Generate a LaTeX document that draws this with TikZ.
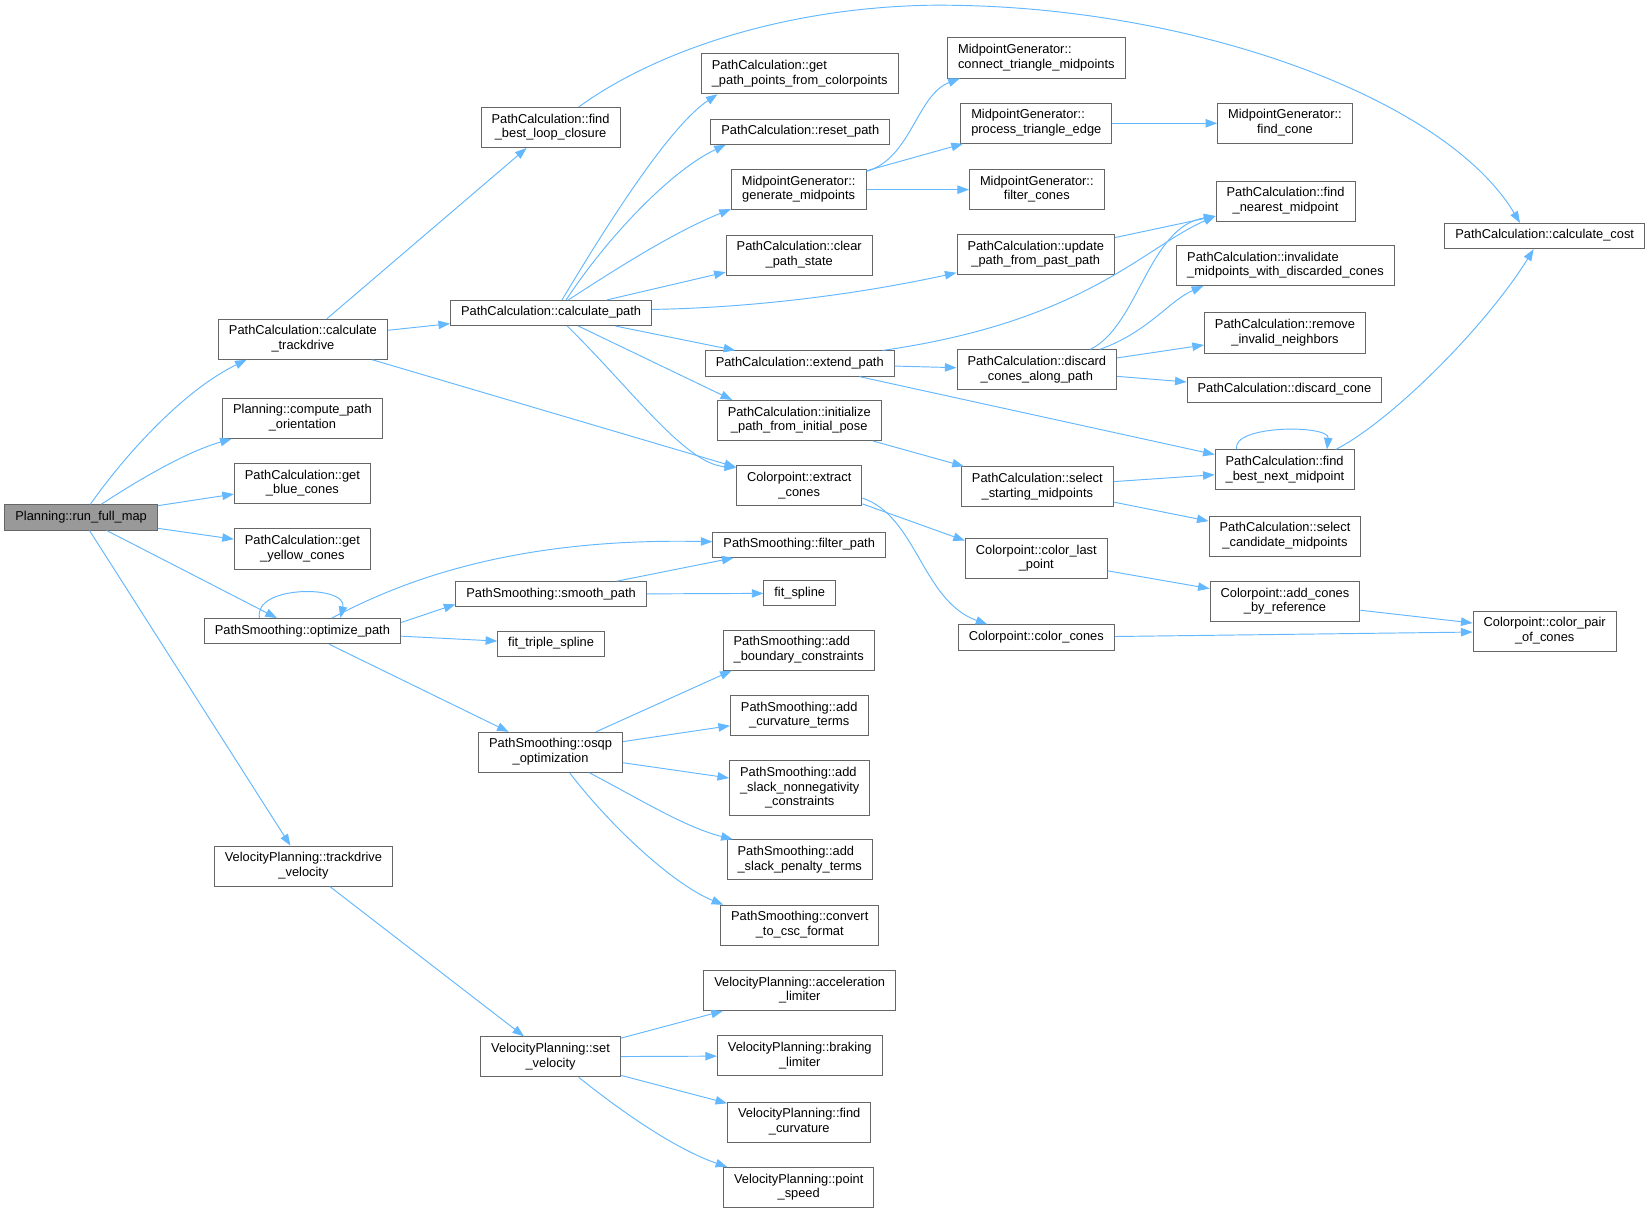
\documentclass[tikz,border=0pt]{standalone}
\usepackage{fontspec}
\setmainfont{Liberation Sans}
\usetikzlibrary{arrows.meta}
\definecolor{edgeblue}{HTML}{63B8FF}
\definecolor{boxgray}{HTML}{666666}
\definecolor{rootgray}{HTML}{999999}
\newcommand\fnA[1]{\begin{tabular}{@{}c@{}}#1\end{tabular}}
\newcommand\fnB[2]{\begin{tabular}{@{}l@{}}#1\\\multicolumn{1}{@{}c@{}}{#2}\end{tabular}}
\newcommand\fnC[3]{\begin{tabular}{@{}l@{}}#1\\#2\\\multicolumn{1}{@{}c@{}}{#3}\end{tabular}}
\begin{document}
\begin{tikzpicture}[x=1pt,y=-1pt,>={Triangle[length=11pt,width=8pt]},
	fn/.style={draw=boxgray,fill=white,line width=0.9pt,inner xsep=10pt,inner ysep=5pt,font=\fontsize{12.2}{14}\selectfont},
	fnroot/.style={fn,fill=rootgray},
	callline/.style={->,draw=edgeblue,line width=0.9pt}]
			\useasboundingbox[fill=white](0,0)rectangle(1565,1149.3);
			\node[fnroot](run)at(77,491){\fnA{Planning::run\_full\_map}};
			\node[fn](ctd)at(287.5,322){\fnB{PathCalculation::calculate}{\_trackdrive}};
			\node[fn](cpo)at(287,397){\fnB{Planning::compute\_path}{\_orientation}};
			\node[fn](gbc)at(287,459){\fnB{PathCalculation::get}{\_blue\_cones}};
			\node[fn](gyc)at(287,521){\fnB{PathCalculation::get}{\_yellow\_cones}};
			\node[fn](opt)at(287,599){\fnA{PathSmoothing::optimize\_path}};
			\node[fn](tdv)at(288,822){\fnB{VelocityPlanning::trackdrive}{\_velocity}};
			\node[fn](fblc)at(522.5,121){\fnB{PathCalculation::find}{\_best\_loop\_closure}};
			\node[fn](cp)at(523,297){\fnA{PathCalculation::calculate\_path}};
			\node[fn](sp)at(523,564){\fnA{PathSmoothing::smooth\_path}};
			\node[fn](fts)at(523,611){\fnA{fit\_triple\_spline}};
			\node[fn](oo)at(522.5,714){\fnB{PathSmoothing::osqp}{\_optimization}};
			\node[fn](sv)at(522.5,1003){\fnB{VelocityPlanning::set}{\_velocity}};
			\node[fn](gpp)at(759,70){\fnB{PathCalculation::get}{\_path\_points\_from\_colorpoints}};
			\node[fn](rp)at(759.5,125){\fnA{PathCalculation::reset\_path}};
			\node[fn](gm)at(758,180){\fnB{MidpointGenerator::}{generate\_midpoints}};
			\node[fn](cps)at(758.5,242){\fnB{PathCalculation::clear}{\_path\_state}};
			\node[fn](ep)at(759,345){\fnA{PathCalculation::extend\_path}};
			\node[fn](ipp)at(758.5,399){\fnB{PathCalculation::initialize}{\_path\_from\_initial\_pose}};
			\node[fn](ec)at(758.5,461){\fnB{Colorpoint::extract}{\_cones}};
			\node[fn](fp)at(758.5,517){\fnA{PathSmoothing::filter\_path}};
			\node[fn](fs)at(759,563){\fnA{fit\_spline}};
			\node[fn](abc)at(758,617){\fnB{PathSmoothing::add}{\_boundary\_constraints}};
			\node[fn](act)at(758.5,679){\fnB{PathSmoothing::add}{\_curvature\_terms}};
			\node[fn](asn)at(759,748){\fnC{PathSmoothing::add}{\_slack\_nonnegativity}{\_constraints}};
			\node[fn](asp)at(759,816){\fnB{PathSmoothing::add}{\_slack\_penalty\_terms}};
			\node[fn](ccf)at(759,878){\fnB{PathSmoothing::convert}{\_to\_csc\_format}};
			\node[fn](al)at(759,940){\fnB{VelocityPlanning::acceleration}{\_limiter}};
			\node[fn](bl)at(759,1002){\fnB{VelocityPlanning::braking}{\_limiter}};
			\node[fn](fcu)at(758.5,1065){\fnB{VelocityPlanning::find}{\_curvature}};
			\node[fn](ps)at(758,1127){\fnB{VelocityPlanning::point}{\_speed}};
			\node[fn](ctm)at(983.5,55){\fnB{MidpointGenerator::}{connect\_triangle\_midpoints}};
			\node[fn](pte)at(983.5,117){\fnB{MidpointGenerator::}{process\_triangle\_edge}};
			\node[fn](fc)at(984,180){\fnB{MidpointGenerator::}{filter\_cones}};
			\node[fn](upp)at(983,241.5){\fnB{PathCalculation::update}{\_path\_from\_past\_path}};
			\node[fn](dcap)at(984,351){\fnB{PathCalculation::discard}{\_cones\_along\_path}};
			\node[fn](ssm)at(984.5,462){\fnB{PathCalculation::select}{\_starting\_midpoints}};
			\node[fn](clp)at(983.5,530){\fnB{Colorpoint::color\_last}{\_point}};
			\node[fn](ccn)at(983.5,605){\fnA{Colorpoint::color\_cones}};
			\node[fn](fcn)at(1219.5,117){\fnB{MidpointGenerator::}{find\_cone}};
			\node[fn](fnm)at(1220,191){\fnB{PathCalculation::find}{\_nearest\_midpoint}};
			\node[fn](ivm)at(1220,252){\fnB{PathCalculation::invalidate}{\_midpoints\_with\_discarded\_cones}};
			\node[fn](rin)at(1219.5,316){\fnB{PathCalculation::remove}{\_invalid\_neighbors}};
			\node[fn](dc)at(1219,370){\fnA{PathCalculation::discard\_cone}};
			\node[fn](fbnm)at(1219.5,446){\fnB{PathCalculation::find}{\_best\_next\_midpoint}};
			\node[fn](scm)at(1219.5,509){\fnB{PathCalculation::select}{\_candidate\_midpoints}};
			\node[fn](acr)at(1219.5,571){\fnB{Colorpoint::add\_cones}{\_by\_reference}};
			\node[fn](cc)at(1466,224){\fnA{PathCalculation::calculate\_cost}};
			\node[fn](cpc)at(1466,599){\fnB{Colorpoint::color\_pair}{\_of\_cones}};
			\foreach \a/\b in {run/gbc,run/gyc,run/opt,run/tdv,ctd/fblc,ctd/cp,ctd/ec,cp/cps,cp/ep,
				gm/pte,gm/fc,pte/fcn,upp/fnm,ep/dcap,ep/fbnm,dcap/rin,dcap/dc,ipp/ssm,ssm/fbnm,ssm/scm,
				clp/acr,acr/cpc,ccn/cpc,opt/fts,opt/oo,sp/fp,sp/fs,oo/act,oo/asn,tdv/sv,sv/al,sv/bl,sv/fcu}
			\draw[callline](\a)--(\b);
			\draw[callline](cp)--(ipp.163);
			\draw[callline](ec.-16)--(clp.166);
			\draw[callline](opt.5)--(sp.186);
			\draw[callline](oo)--(abc.197);
			\draw[callline](run)..controls(120,430)and(175,370)..(ctd.200);
			\draw[callline](run)..controls(140,450)and(180,428)..(cpo);
			\draw[callline](fblc)..controls(620,50)and(740,8)..(880,5)..controls(1120,2)and(1370,90)..(cc.152);
			\draw[callline](cp.50)..controls(575,215)and(635,120)..(gpp.194);
			\draw[callline](cp.41)..controls(580,220)and(640,160)..(rp.190);
			\draw[callline](cp.37)..controls(585,255)and(640,220)..(gm.196);
			\draw[callline](cp.2)..controls(720,292)and(820,278)..(upp.193);
			\draw[callline](cp.321)..controls(600,370)and(650,440)..(ec.164);
			\draw[callline](gm.15)..controls(865,150)and(870,90)..(ctm.195);
			\draw[callline](ep.9)..controls(1030,305)and(1085,235)..(fnm.192);
			\draw[callline](dcap.21)..controls(1080,310)and(1090,215)..(fnm.192);
			\draw[callline](dcap.18)..controls(1090,315)and(1110,285)..(ivm.194);
			\draw[callline](fbnm.157)..controls(1168,403)and(1262,403)..(fbnm.26);
			\draw[callline](fbnm.22)..controls(1320,400)and(1410,310)..(cc.230);
			\draw[callline](ec.-11)..controls(870,490)and(875,570)..(ccn.165);
			\draw[callline](opt.163)..controls(240,555)and(330,555)..(opt.19);
			\draw[callline](opt.24)..controls(375,555)and(480,510)..(fp.178);
			\draw[callline](oo)..controls(610,760)and(650,785)..(asp.163);
			\draw[callline](oo.313)..controls(580,785)and(640,840)..(ccf.165);
			\draw[callline](sv.324)..controls(590,1055)and(640,1090)..(ps.164);
		\end{tikzpicture}
\end{document}
